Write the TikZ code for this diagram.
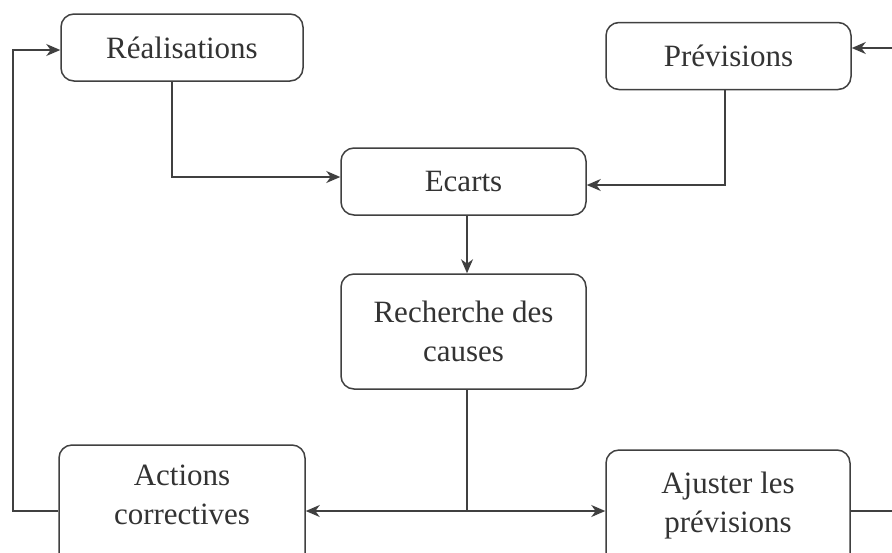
\documentclass[tikz,border=0pt]{standalone}
\usepackage{fontspec}
\setmainfont{Liberation Serif}
\usetikzlibrary{arrows.meta}
\definecolor{ink}{HTML}{404040}
\definecolor{txtc}{HTML}{333333}
\begin{document}
\begin{tikzpicture}[x=0.5pt,y=-0.5pt,
  box/.style={draw=ink, line width=0.75pt, rounded corners=6.5pt, inner sep=0pt, align=center, text=txtc, font=\fontsize{15.5}{19.5}\selectfont},
  lbl/.style={inner sep=0pt, align=center, text=txtc, font=\fontsize{15.5}{19.5}\selectfont},
  arr/.style={draw=ink, line width=0.7pt, -{Stealth[length=7pt,width=6pt,inset=2.2pt]}},
  ln/.style={draw=ink, line width=0.7pt}]
\useasboundingbox (0,0) rectangle (892,552);
\clip (0,0) rectangle (892,552);
\fill[white] (0,0) rectangle (892,552);
% boxes
\node[box, minimum width=121pt, minimum height=33.5pt] (real) at (182,47.5) {Réalisations};
\node[box, minimum width=122.5pt, minimum height=33.5pt] (prev) at (728.5,56) {Prévisions};
\node[box, minimum width=122.5pt, minimum height=33.5pt] (ecarts) at (463.5,181.5) {Ecarts};
\node[box, minimum width=122.5pt, minimum height=57.5pt] (rech) at (463.5,331.5) {Recherche des\\causes};
\node[box, minimum width=123pt, minimum height=66pt] (act) at (182,511) {};
\node[lbl] (actT) at (182,494.6) {Actions\\correctives};
\node[box, minimum width=122pt, minimum height=65pt] (adj) at (728,515) {};
\node[lbl] (adjT) at (728,506) {Ajuster les\\prévisions};
% helper coordinates
\coordinate (split) at (467,511);
\coordinate (leftc) at (13,50);
\coordinate (rightc) at (905,48);
% connectors
\draw[arr] ([xshift=-5pt]real.south) |- ([yshift=2.25pt]ecarts.west);
\draw[arr] ([xshift=-1.75pt]prev.south) |- ([yshift=-1.75pt]ecarts.east);
\draw[arr] ([xshift=1.75pt]ecarts.south) -- ([xshift=1.75pt]rech.north);
\draw[ln] ([xshift=1.75pt]rech.south) -- (split);
\draw[arr] (split) -- (split -| act.east);
\draw[arr] (split) -- (split -| adj.west);
\draw[arr] (split -| act.west) -| (leftc) -- (leftc -| real.west);
\draw[arr] (split -| adj.east) -| (rightc) -- (rightc -| prev.east);
\end{tikzpicture}
\end{document}
